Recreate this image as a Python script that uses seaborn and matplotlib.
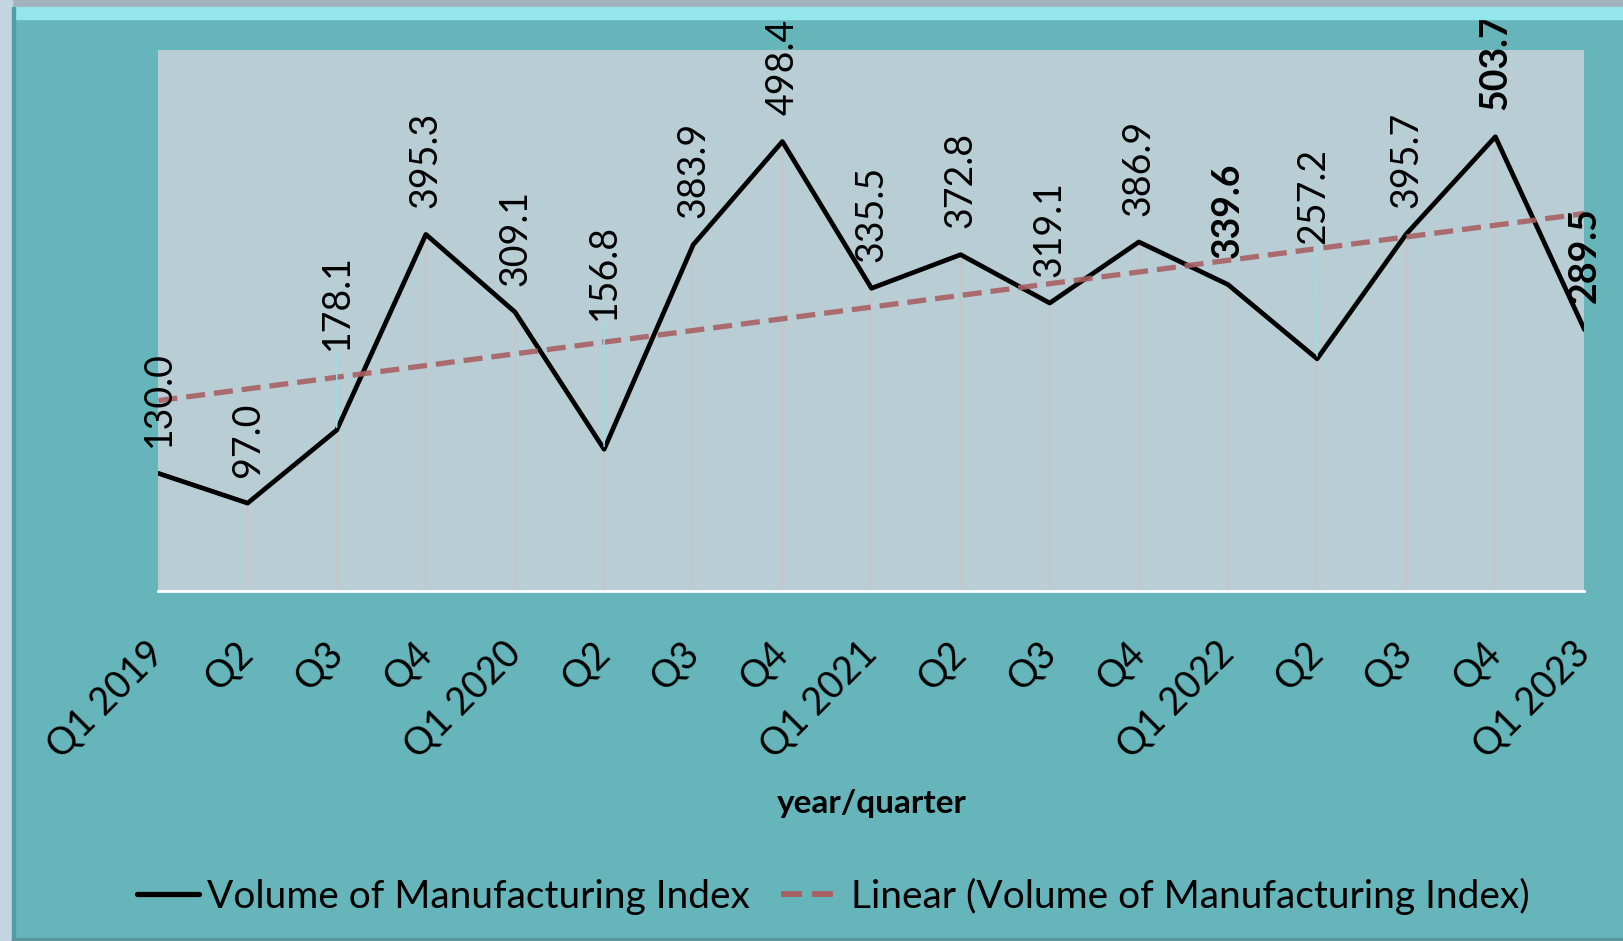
import numpy as np
import pandas as pd
import matplotlib
matplotlib.use("Agg")
import matplotlib.pyplot as plt
import seaborn as sns
from matplotlib.patches import Rectangle
from matplotlib.lines import Line2D

# quarterly data
quarters = ["Q1 2019", "Q2", "Q3", "Q4", "Q1 2020", "Q2", "Q3", "Q4",
            "Q1 2021", "Q2", "Q3", "Q4", "Q1 2022", "Q2", "Q3", "Q4", "Q1 2023"]
index_values = [130.0, 97.0, 178.1, 395.3, 309.1, 156.8, 383.9, 498.4,
                335.5, 372.8, 319.1, 386.9, 339.6, 257.2, 395.7, 503.7, 289.5]

series_name = "Volume of Manufacturing Index"
trend_name = "Linear (Volume of Manufacturing Index)"

TEAL = "#65B5BA"
PLOT_BG = "#B8CED4"
TREND = "#A86062"
DASH = (0, (3.6, 1.7))

df = pd.DataFrame({"pos": np.arange(len(index_values)), "value": index_values})
slope, intercept = np.polyfit(df["pos"], df["value"], 1)
df["trend"] = intercept + slope * df["pos"]

sns.set_theme(style="white")
plt.rcParams["font.family"] = ["Lato", "DejaVu Sans"]
plt.rcParams["text.color"] = "black"
plt.rcParams["xtick.color"] = "black"
plt.rcParams["axes.labelcolor"] = "black"

W, H = 1624, 941
fig = plt.figure(figsize=(W / 100, H / 100), dpi=100, facecolor=TEAL)

# frame bevel bits
fig.patches.append(Rectangle((0, 1 - 7 / H), 1, 7 / H, transform=fig.transFigure, color="#A3B2BE", zorder=0))
fig.patches.append(Rectangle((13 / W, 1 - 19 / H), 1, 12 / H, transform=fig.transFigure, color="#93E6EA", zorder=0))
fig.patches.append(Rectangle((0, 0), 12 / W, 1, transform=fig.transFigure, color="#C3D5E2", zorder=0))
fig.patches.append(Rectangle((12 / W, 0), 3 / W, 1 - 7 / H, transform=fig.transFigure, color="#4E9FA6", zorder=0))
fig.patches.append(Rectangle((12 / W, 0), 1, 3 / H, transform=fig.transFigure, color="#5A979C", zorder=0))

ax = fig.add_axes([158.5 / W, 1 - 590.5 / H, (1584.5 - 158.5) / W, (590.5 - 50) / H])
ax.set_facecolor(PLOT_BG)

# drop lines
ax.vlines(df["pos"], 0, df["value"], color="#C6C6C6", lw=1.5, zorder=1)

sns.lineplot(data=df, x="pos", y="value", color="black", lw=3.4, ax=ax,
             zorder=3, legend=False)
sns.lineplot(data=df, x="pos", y="trend", color=TREND, lw=3.8, ax=ax,
             zorder=4, legend=False, linestyle=DASH, alpha=0.9)

# data labels, a few lifted with leader lines
lift = {2: 58, 5: 93, 13: 83}
bold = {12, 15, 16}
for i, v in enumerate(index_values):
    off = lift.get(i, 19)
    kw = {}
    if i in lift:
        kw["arrowprops"] = dict(arrowstyle="-", color="#9FDDE6", lw=1.1, shrinkA=0, shrinkB=2)
    ax.annotate(f"{v:.1f}", (i, v), xytext=(-3 if i == 13 else 0, off),
                textcoords="offset points", rotation=90, ha="center", va="bottom",
                fontsize=27, color="black", annotation_clip=False,
                fontweight="bold" if i in bold else "normal", zorder=5, **kw)

ax.set_xlim(0, len(index_values) - 1)
ax.set_ylim(0, 600)
ax.set_yticks([])
ax.set_xticks(df["pos"])
ax.set_xticklabels(quarters, rotation=45, ha="right", va="center",
                   rotation_mode="anchor", fontsize=27)
ax.tick_params(axis="x", length=0, pad=41)
for s in ["top", "right", "left"]:
    ax.spines[s].set_visible(False)
ax.spines["bottom"].set_color("white")
ax.spines["bottom"].set_linewidth(2)

ax.set_xlabel("year/quarter", fontsize=24, fontweight="bold")
ax.set_ylabel("")
ax.xaxis.set_label_coords(0.5, (1 - 803 / H - (1 - 590.5 / H)) / ((590.5 - 50) / H))
ax.xaxis.label.set_va("center")

handles = [Line2D([], [], color="black", lw=3.8),
           Line2D([], [], color=TREND, lw=4.2, linestyle=DASH)]
fig.legend(handles, [series_name, trend_name], loc="center",
           bbox_to_anchor=(0.513, 1 - 896 / H), ncol=2, frameon=False,
           fontsize=28, handlelength=1.6, handletextpad=0.2, columnspacing=0.8)

fig.savefig("out.png", dpi=100, facecolor=TEAL)
